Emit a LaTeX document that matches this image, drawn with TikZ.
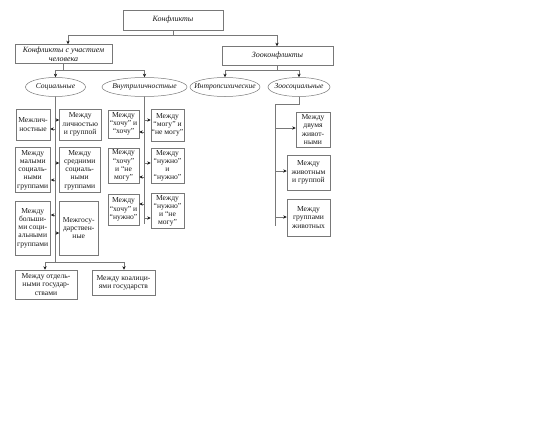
\documentclass[tikz,border=0pt]{standalone}
\usepackage{fontspec}
\setmainfont{Liberation Serif}
\usepackage{tikz}
\usetikzlibrary{shapes.geometric, arrows.meta, positioning, calc}
\definecolor{myline}{RGB}{120,120,120}
\definecolor{myink}{RGB}{25,25,25}
\tikzset{
  block/.style={rectangle, draw=myline, text=myink, align=center, inner sep=0pt, font=\fontsize{7.6}{8.2}\selectfont, line width=0.5pt},
  head/.style={rectangle, draw=myline, text=myink, align=center, inner sep=0pt, font=\fontsize{8}{9}\selectfont\itshape, line width=0.5pt},
  oval/.style={ellipse, draw=myline, text=myink, inner xsep=-14pt, inner ysep=-2pt, minimum height=19pt, font=\fontsize{7.6}{9}\selectfont\itshape, line width=0.5pt},
  arrow/.style={-{Stealth[length=3.5pt, width=3.2pt, color=myink]}, line width=0.5pt, color=myline},
  line/.style={line width=0.5pt, color=myline}
}
\begin{document}
\begin{tikzpicture}[x=1pt, y=-1pt]
  \useasboundingbox (0,0) rectangle (540,428);

  % Top levels
  \node[head, minimum width=100pt, minimum height=20pt] (conf) at (173,20) {Конфликты};
  \node[head, minimum width=97pt, minimum height=19pt] (human) at (63.5,54) {Конфликты с участием\\человека};
  \node[head, minimum width=111pt, minimum height=19pt] (zoo) at (277.5,56) {Зооконфликты};

  % Ellipses
  \node[oval, minimum width=60pt] (soc) at (55.5,87) {Социальные};
  \node[oval, minimum width=85pt] (intra) at (144.5,87) {Внутриличностные};
  \node[oval, minimum width=70pt] (intro) at (225,87) {Интропсихические};
  \node[oval, minimum width=62pt] (zsoc) at (299,87) {Зоосоциальные};

  % Social (Left)
  \node[block, minimum width=34pt, minimum height=31pt] (L1) at (33,124.5) {Межлич-\\ностные};
  \node[block, minimum width=41.5pt, minimum height=31pt] (R1) at (80.25,124.5) {Между\\личностью\\и группой};
  \node[block, minimum width=35.5pt, minimum height=45pt] (L2) at (32.75,170) {Между\\малыми\\социаль-\\ными\\группами};
  \node[block, minimum width=40.5pt, minimum height=45pt] (R2) at (79.75,170) {Между\\средними\\социаль-\\ными\\группами};
  \node[block, minimum width=35.5pt, minimum height=54pt] (L3) at (32.75,228) {Между\\больши-\\ми соци-\\альными\\группами};
  \node[block, minimum width=38.5pt, minimum height=54pt] (R3) at (78.75,228) {Межгосу-\\дарствен-\\ные};
  \node[block, minimum width=62pt, minimum height=29pt] (B1) at (46,284.5) {Между отдель-\\ными государ-\\ствами};
  \node[block, minimum width=63pt, minimum height=25pt] (B2) at (123.5,282.5) {Между коалици-\\ями государств};

  % Intrapersonal (Middle)
  \node[block, minimum width=31pt, minimum height=28pt] (ML1) at (123.5,124) {Между\\“хочу” и\\“хочу”};
  \node[block, minimum width=31pt, minimum height=35pt] (ML2) at (123.5,165.5) {Между\\“хочу”\\и “не\\могу”};
  \node[block, minimum width=31pt, minimum height=31pt] (ML3) at (123.5,209.5) {Между\\“хочу” и\\“нужно”};
  \node[block, minimum width=33pt, minimum height=32pt] (MR1) at (167.5,125) {Между\\“могу” и\\“не могу”};
  \node[block, minimum width=33pt, minimum height=35pt] (MR2) at (167.5,166) {Между\\“нужно”\\и\\“нужно”};
  \node[block, minimum width=33pt, minimum height=35pt] (MR3) at (167.5,211) {Между\\“нужно”\\и “не\\могу”};

  % Zoosocial (Right)
  \node[block, minimum width=34pt, minimum height=35pt] (Z1) at (313,129.5) {Между\\двумя\\живот-\\ными};
  \node[block, minimum width=43pt, minimum height=35pt] (Z2) at (308.5,172.5) {Между\\животным\\и группой};
  \node[block, minimum width=43pt, minimum height=37pt] (Z3) at (308.5,217.5) {Между\\группами\\животных};

  % Top connectors
  \coordinate (cl) at (68,35);
  \coordinate (cr) at (277,35);
  \draw[line] (conf.south) -- (conf.south |- cl);
  \draw[line] (cl) -- (cr);
  \draw[arrow] (cl) -- (cl |- human.north);
  \draw[arrow] (cr) -- (cr |- zoo.north);

  \coordinate (hl) at (55.5,70);
  \coordinate (hr) at (144.5,70);
  \draw[line] (human.south) -- (human.south |- hl);
  \draw[line] (hl) -- (hr);
  \draw[arrow] (hl) -- (soc.north);
  \draw[arrow] (hr) -- (intra.north);

  \coordinate (zl) at (225,70);
  \coordinate (zr) at (299,70);
  \draw[line] (zoo.south) -- (zoo.south |- zl);
  \draw[line] (zl) -- (zr);
  \draw[arrow] (zl) -- (intro.north);
  \draw[arrow] (zr) -- (zsoc.north);

  % Social trunk
  \coordinate (sb) at (55.5,262);
  \coordinate (bl) at (45,262);
  \coordinate (br) at (124,262);
  \draw[line] (soc.south) -- (sb);
  \coordinate (s1) at (55.5,120);
  \coordinate (s2) at (55.5,129);
  \coordinate (s3) at (55.5,163);
  \coordinate (s4) at (55.5,180);
  \coordinate (s5) at (55.5,215);
  \coordinate (s6) at (55.5,233);
  \draw[arrow] (s1) -- (s1 -| R1.west);
  \draw[arrow] (s2) -- (s2 -| L1.east);
  \draw[arrow] (s3) -- (s3 -| R2.west);
  \draw[arrow] (s4) -- (s4 -| L2.east);
  \draw[arrow] (s5) -- (s5 -| L3.east);
  \draw[arrow] (s6) -- (s6 -| R3.west);
  \draw[line] (bl) -- (br);
  \draw[arrow] (bl) -- (bl |- B1.north);
  \draw[arrow] (br) -- (br |- B2.north);

  % Intrapersonal trunk
  \coordinate (mb) at (144.5,224);
  \draw[line] (intra.south) -- (mb);
  \coordinate (m1) at (144.5,120);
  \coordinate (m2) at (144.5,132);
  \coordinate (m3) at (144.5,163);
  \coordinate (m4) at (144.5,177);
  \coordinate (m5) at (144.5,204);
  \coordinate (m6) at (144.5,218);
  \draw[arrow] (m1) -- (m1 -| MR1.west);
  \draw[arrow] (m2) -- (m2 -| ML1.east);
  \draw[arrow] (m3) -- (m3 -| MR2.west);
  \draw[arrow] (m4) -- (m4 -| ML2.east);
  \draw[arrow] (m5) -- (m5 -| ML3.east);
  \draw[arrow] (m6) -- (m6 -| MR3.west);

  % Zoosocial trunk
  \coordinate (zk) at (275,104);
  \coordinate (zb) at (275,226);
  \draw[line] (zsoc.south) -- (zsoc.south |- zk) -- (zk) -- (zb);
  \coordinate (z1) at (275,128);
  \coordinate (z2) at (275,171);
  \coordinate (z3) at (275,217);
  \draw[arrow] (z1) -- (z1 -| Z1.west);
  \draw[arrow] (z2) -- (z2 -| Z2.west);
  \draw[arrow] (z3) -- (z3 -| Z3.west);
\end{tikzpicture}
\end{document}
